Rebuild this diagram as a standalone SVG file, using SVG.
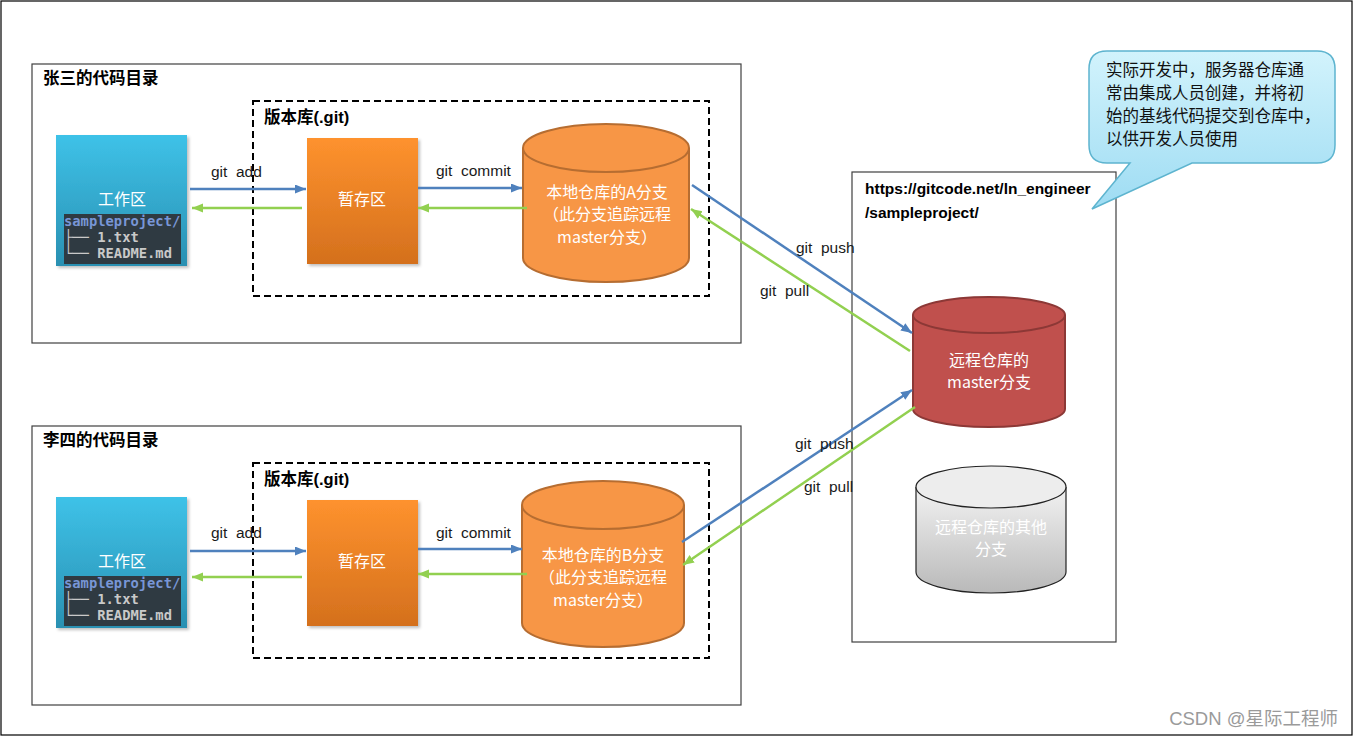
<svg xmlns="http://www.w3.org/2000/svg" width="1354" height="737" viewBox="0 0 1354 737">
<defs>
<style>
.frame{fill:#fff;stroke:#000;stroke-width:1.2}
.box{fill:none;stroke:#404040;stroke-width:1.2}
.dash{fill:none;stroke:#000;stroke-width:2;stroke-dasharray:7 4}
.title{font-family:"Liberation Sans","Noto Sans CJK SC",sans-serif;font-weight:bold;font-size:16.5px;fill:#000}
.url{font-family:"Liberation Sans",sans-serif;font-weight:bold;font-size:15.5px;fill:#000}
.lbl{font-family:"Liberation Sans","Noto Sans CJK SC",sans-serif;font-size:15.5px;fill:#1a1a1a}
.wt{font-family:"Noto Sans CJK SC","Liberation Sans",sans-serif;font-size:16px;fill:#fff;text-anchor:middle}
.mono{font-family:"DejaVu Sans Mono","Liberation Mono",monospace;font-size:13.8px;font-weight:bold;fill:#c9c9c9}
.call{font-family:"Noto Sans CJK SC",sans-serif;font-size:16.5px;fill:#111}
.blue{stroke:#4f81bd;stroke-width:2.5;fill:none;marker-end:url(#ab)}
.green{stroke:#92d050;stroke-width:2.5;fill:none;marker-end:url(#ag)}
.cylO{fill:#f79646;stroke:#b66d31;stroke-width:2}
.cylR{fill:#c0504d;stroke:#8c3836;stroke-width:2}
.cylG{fill:url(#gGray);stroke:#222;stroke-width:1.2}
</style>
<marker id="ab" markerUnits="userSpaceOnUse" markerWidth="12" markerHeight="10" refX="11" refY="4.5" orient="auto"><path d="M0,0 L11,4.5 L0,9 z" fill="#4f81bd"/></marker>
<marker id="ag" markerUnits="userSpaceOnUse" markerWidth="12" markerHeight="10" refX="11" refY="4.5" orient="auto"><path d="M0,0 L11,4.5 L0,9 z" fill="#92d050"/></marker>
<linearGradient id="gWork" x1="0" y1="0" x2="0" y2="1"><stop offset="0" stop-color="#3ec2e8"/><stop offset="1" stop-color="#2a90b2"/></linearGradient>
<linearGradient id="gStage" x1="0" y1="0" x2="0" y2="1"><stop offset="0" stop-color="#fe922e"/><stop offset="1" stop-color="#d4701d"/></linearGradient>
<linearGradient id="gGray" x1="0" y1="0" x2="0" y2="1"><stop offset="0" stop-color="#f2f2f2"/><stop offset="1" stop-color="#b9b9b9"/></linearGradient>
<linearGradient id="gCall" x1="0" y1="0" x2="0" y2="1"><stop offset="0" stop-color="#d2f3fc"/><stop offset="1" stop-color="#9edcf3"/></linearGradient>
<filter id="sh" x="-10%" y="-10%" width="130%" height="130%"><feDropShadow dx="2" dy="2" stdDeviation="1.5" flood-color="#000" flood-opacity="0.25"/></filter>
</defs>

<rect class="frame" x="1" y="1" width="1351" height="734"/>

<g id="zhangsan">
<rect class="box" x="32" y="64" width="709" height="279"/>
<text class="title" x="43" y="84">张三的代码目录</text>
</g>
<g id="repo-a">
<rect class="dash" x="253" y="101" width="456" height="195"/>
<text class="title" x="264" y="123">版本库(.git)</text>
</g>
<g id="work-a">
<rect x="56" y="135" width="131" height="131" fill="url(#gWork)" filter="url(#sh)"/>
<text class="wt" x="122" y="205">工作区</text>
<rect x="64" y="214" width="117" height="50" fill="#2f3a42"/>
<text class="mono" x="64" y="226"><tspan fill="#7896d6">sampleproject/</tspan></text>
<text class="mono" x="64" y="242">├── 1.txt</text>
<text class="mono" x="64" y="258">└── README.md</text>
</g>
<g id="stage-a">
<rect x="307" y="138" width="111" height="126" fill="url(#gStage)" filter="url(#sh)"/>
<text class="wt" x="362" y="205">暂存区</text>
</g>
<g id="local-a">
<path class="cylO" d="M523,148 L523,258 A83,24 0 0 0 689,258 L689,148"/>
<ellipse class="cylO" cx="606" cy="148" rx="83" ry="24"/>
<text class="wt" x="607" y="198">本地仓库的A分支</text>
<text class="wt" x="607" y="220">（此分支追踪远程</text>
<text class="wt" x="607" y="243">master分支）</text>
</g>

<g id="lisi">
<rect class="box" x="32" y="426" width="709" height="279"/>
<text class="title" x="43" y="446">李四的代码目录</text>
</g>
<g id="repo-b">
<rect class="dash" x="253" y="463" width="456" height="195"/>
<text class="title" x="264" y="485">版本库(.git)</text>
</g>
<g id="work-b">
<rect x="56" y="497" width="131" height="131" fill="url(#gWork)" filter="url(#sh)"/>
<text class="wt" x="122" y="567">工作区</text>
<rect x="64" y="576" width="117" height="50" fill="#2f3a42"/>
<text class="mono" x="64" y="588"><tspan fill="#7896d6">sampleproject/</tspan></text>
<text class="mono" x="64" y="604">├── 1.txt</text>
<text class="mono" x="64" y="620">└── README.md</text>
</g>
<g id="stage-b">
<rect x="307" y="500" width="111" height="126" fill="url(#gStage)" filter="url(#sh)"/>
<text class="wt" x="362" y="567">暂存区</text>
</g>
<g id="local-b">
<path class="cylO" d="M522,505 L522,623 A81,24 0 0 0 684,623 L684,505"/>
<ellipse class="cylO" cx="603" cy="505" rx="81" ry="24"/>
<text class="wt" x="603" y="561">本地仓库的B分支</text>
<text class="wt" x="603" y="583">（此分支追踪远程</text>
<text class="wt" x="603" y="606">master分支）</text>
</g>

<g id="remote">
<rect class="box" x="852" y="172" width="264" height="470"/>
<text class="url" x="865" y="194">https://gitcode.net/ln_engineer</text>
<text class="url" x="865" y="218">/sampleproject/</text>
</g>
<g id="remote-master">
<path class="cylR" d="M913,315 L913,409 A76,18 0 0 0 1065,409 L1065,315"/>
<ellipse class="cylR" cx="989" cy="315" rx="76" ry="18"/>
<text class="wt" x="989" y="366">远程仓库的</text>
<text class="wt" x="989" y="388">master分支</text>
</g>
<g id="remote-other">
<path class="cylG" d="M916,487 L916,572 A75,21 0 0 0 1066,572 L1066,487"/>
<ellipse cx="991" cy="487" rx="75" ry="21" fill="#ededed" stroke="#222" stroke-width="1.2"/>
<text class="wt" x="991" y="533" fill="#f4f4f4">远程仓库的其他</text>
<text class="wt" x="991" y="555" fill="#f4f4f4">分支</text>
</g>

<g id="callout">
<path d="M1107,51 L1317,51 Q1335,51 1335,69 L1335,145 Q1335,163 1317,163 L1192,163 L1092,209 L1130,163 L1107,163 Q1089,163 1089,145 L1089,69 Q1089,51 1107,51 Z" fill="url(#gCall)" stroke="#5db4cf" stroke-width="1.5"/>
<text class="call" x="1106" y="76">实际开发中，服务器仓库通</text>
<text class="call" x="1106" y="99">常由集成人员创建，并将初</text>
<text class="call" x="1106" y="122">始的基线代码提交到仓库中，</text>
<text class="call" x="1106" y="145">以供开发人员使用</text>
</g>

<g id="connectors">
<line class="blue" x1="190" y1="189" x2="306" y2="189"/>
<line class="green" x1="302" y1="208" x2="192" y2="208"/>
<line class="blue" x1="418" y1="188" x2="522" y2="188"/>
<line class="green" x1="527" y1="208" x2="418" y2="208"/>
<line class="blue" x1="692" y1="185" x2="912" y2="333"/>
<line class="green" x1="910" y1="351" x2="691" y2="209"/>
<line class="blue" x1="190" y1="551" x2="306" y2="551"/>
<line class="green" x1="302" y1="577" x2="192" y2="577"/>
<line class="blue" x1="418" y1="549" x2="522" y2="549"/>
<line class="green" x1="527" y1="574" x2="418" y2="574"/>
<line class="blue" x1="682" y1="542" x2="912" y2="390"/>
<line class="green" x1="915" y1="407" x2="683" y2="565"/>
<text class="lbl" x="211" y="177" xml:space="preserve">git  add</text>
<text class="lbl" x="436" y="176" xml:space="preserve">git  commit</text>
<text class="lbl" x="796" y="253" xml:space="preserve">git  push</text>
<text class="lbl" x="760" y="296" xml:space="preserve">git  pull</text>
<text class="lbl" x="211" y="538" xml:space="preserve">git  add</text>
<text class="lbl" x="436" y="538" xml:space="preserve">git  commit</text>
<text class="lbl" x="795" y="449" xml:space="preserve">git  push</text>
<text class="lbl" x="804" y="492" xml:space="preserve">git  pull</text>
</g>

<text x="1338" y="725" text-anchor="end" font-family="Liberation Sans,Noto Sans CJK SC,sans-serif" font-size="18.5" fill="#9a9a9a">CSDN @星际工程师</text>
</svg>
